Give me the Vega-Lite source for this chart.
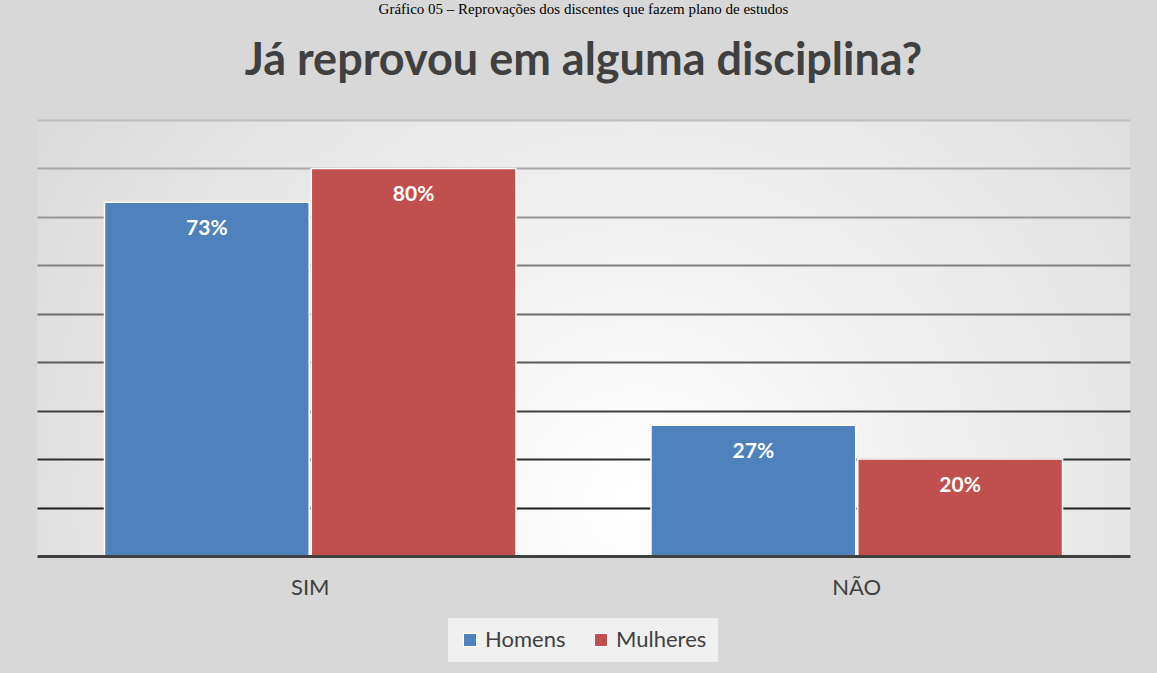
{
  "$schema": "https://vega.github.io/schema/vega-lite/v6.json",
  "width": 1093,
  "height": 436,
  "autosize": {"type": "none"},
  "padding": {"left": 37, "top": 120, "right": 27, "bottom": 117},
  "background": "#d8d8d8",
  "title": {
    "text": "Gráfico 05 – Reprovações dos discentes que fazem plano de estudos",
    "subtitle": "Já reprovou em alguma disciplina?",
    "anchor": "middle",
    "font": "Liberation Serif",
    "fontSize": 15,
    "fontWeight": "normal",
    "color": "#000000",
    "subtitleFont": "Lato",
    "subtitleFontSize": 45,
    "subtitleFontWeight": "bold",
    "subtitleColor": "#404040",
    "subtitlePadding": 22,
    "offset": 36
  },
  "data": {
    "values": [
      {"resposta": "SIM", "sexo": "Homens", "valor": 0.73},
      {"resposta": "SIM", "sexo": "Mulheres", "valor": 0.80},
      {"resposta": "NÃO", "sexo": "Homens", "valor": 0.27},
      {"resposta": "NÃO", "sexo": "Mulheres", "valor": 0.20}
    ]
  },
  "encoding": {
    "x": {
      "field": "resposta",
      "type": "nominal",
      "sort": ["SIM", "NÃO"],
      "scale": {"paddingInner": 0.247, "paddingOuter": 0.1235},
      "axis": {
        "title": null,
        "labelAngle": 0,
        "labelFont": "Lato",
        "labelFontSize": 22,
        "labelColor": "#404040",
        "labelPadding": 21,
        "ticks": false,
        "domainColor": "#404040",
        "domainWidth": 3,
        "zindex": 1
      }
    },
    "xOffset": {
      "field": "sexo",
      "type": "nominal",
      "scale": {"paddingInner": 0.01, "paddingOuter": 0}
    },
    "y": {
      "field": "valor",
      "type": "quantitative",
      "scale": {"domain": [0, 0.9], "nice": false},
      "axis": {
        "title": null,
        "labels": false,
        "ticks": false,
        "domain": false,
        "values": [0.1, 0.2, 0.3, 0.4, 0.5, 0.6, 0.7, 0.8, 0.9],
        "gridWidth": 2,
        "gridColor": {
          "condition": [
            {"test": "datum.value < 0.15", "value": "#1e1e1e"},
            {"test": "datum.value < 0.25", "value": "#2e2e2e"},
            {"test": "datum.value < 0.35", "value": "#404040"},
            {"test": "datum.value < 0.45", "value": "#5a5a5a"},
            {"test": "datum.value < 0.55", "value": "#6c6c6c"},
            {"test": "datum.value < 0.65", "value": "#808080"},
            {"test": "datum.value < 0.75", "value": "#959595"},
            {"test": "datum.value < 0.85", "value": "#a8a8a8"}
          ],
          "value": "#bebebe"
        }
      }
    }
  },
  "layer": [
    {
      "mark": {"type": "bar", "stroke": "#ffffff", "strokeWidth": 1.5},
      "encoding": {
        "color": {
          "field": "sexo",
          "type": "nominal",
          "scale": {"domain": ["Homens", "Mulheres"], "range": ["#4f81bd", "#c0504d"]},
          "legend": {
            "title": null,
            "orient": "none",
            "legendX": 411,
            "legendY": 498,
            "direction": "horizontal",
            "symbolType": "square",
            "symbolSize": 170,
            "symbolStrokeColor": "#ffffff",
            "symbolStrokeWidth": 1,
            "labelFont": "Lato",
            "labelFontSize": 22,
            "labelColor": "#404040",
            "columnPadding": 24,
            "fillColor": "#f0f0f0",
            "padding": 11
          }
        }
      }
    },
    {
      "mark": {
        "type": "text",
        "color": "#ffffff",
        "font": "Lato",
        "fontSize": 21,
        "fontWeight": "bold",
        "baseline": "middle",
        "dy": 27
      },
      "encoding": {
        "text": {"field": "valor", "type": "quantitative", "format": ".0%"}
      }
    }
  ],
  "config": {
    "view": {
      "stroke": null,
      "fill": {
        "gradient": "radial",
        "x1": 0.55, "y1": 0.65, "r1": 0,
        "x2": 0.55, "y2": 0.65, "r2": 0.7,
        "stops": [
          {"offset": 0, "color": "#ffffff"},
          {"offset": 1, "color": "#d8d8d8"}
        ]
      }
    }
  }
}
